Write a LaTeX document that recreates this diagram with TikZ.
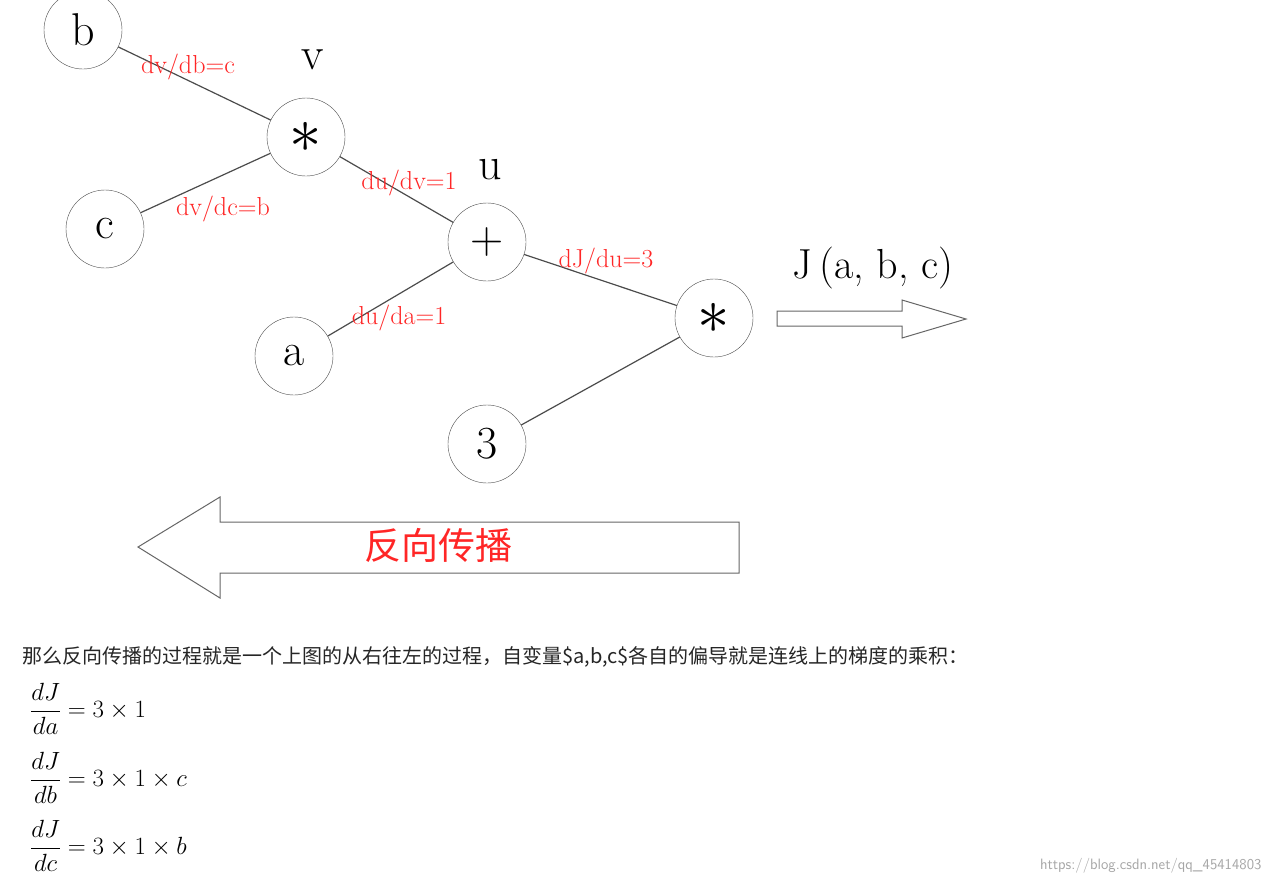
\documentclass[tikz,border=0pt]{standalone}
\usepackage{fontspec}
\usepackage{amsmath}
\newfontfamily\cjk{Noto Sans CJK SC}
\usetikzlibrary{calc}
\newcommand{\bigast}{\raisebox{-0.45ex}{\scalebox{2.6}{$\ast$}}}
\begin{document}
\begin{tikzpicture}[x=1pt,y=-1pt,
  nd/.style={circle,draw=black!70,fill=white,minimum size=78pt,inner sep=0pt,font=\fontsize{46}{46}\selectfont},
  ed/.style={draw=black!70,line width=1.2pt},
  lb/.style={text=red!85,font=\fontsize{26}{26}\selectfont},
  nm/.style={font=\fontsize{46}{46}\selectfont},
  eq/.style={anchor=west,inner sep=0pt,font=\fontsize{27}{27}\selectfont}]
\useasboundingbox[fill=white] (0,0) rectangle (1273,884);
\node[nd] (b) at (83,30) {b};
\node[nd] (v) at (306,137) {\bigast};
\node[nd] (c) at (105,229) {c};
\node[nd] (u) at (487,242) {+};
\node[nd] (a) at (294,356) {a};
\node[nd] (j) at (714,318) {\bigast};
\node[nd] (t) at (487,444) {3};
\draw[ed] (b)--(v); \draw[ed] (c)--(v); \draw[ed] (v)--(u); \draw[ed] (a)--(u);
\draw[ed] (u)--(j); \draw[ed] (t)--(j);
\node[lb] (l1) at (188,67) {dv/db=c};
\node[lb] (l2) at (223,209) {dv/dc=b};
\node[lb] (l3) at (409,183) {du/dv=1};
\node[lb] (l4) at (399,318) {du/da=1};
\node[lb] (l5) at (606,261) {dJ/du=3};
\node[nm] (nv) at (313,60) {v};
\node[nm] (nu) at (490,170) {u};
\node[font=\fontsize{42}{42}\selectfont] (nj) at (873,268) {J\,(a, b, c)};
\draw[black!60,line width=1pt] (777,311)--(902,311)--(902,300)--(966,319)--(902,338)--(902,326)--(777,326)--cycle;
\draw[black!60,line width=1pt] (138,547)--(220,497)--(220,522)--(739,522)--(739,573)--(220,573)--(220,598)--cycle;
\node[text=red!85,font=\cjk\fontsize{37}{37}\selectfont] (bp) at (438,545) {反向传播};
\node[anchor=west,font=\cjk\fontsize{20}{20}\selectfont,text=black!85,inner sep=0pt] (tx) at (22,657) {那么反向传播的过程就是一个上图的从右往左的过程，自变量\$a,b,c\$各自的偏导就是连线上的梯度的乘积：};
\node[eq] (e1) at (30,709) {$\dfrac{dJ}{da}=3\times1$};
\node[eq] (e2) at (30,778) {$\dfrac{dJ}{db}=3\times1\times c$};
\node[eq] (e3) at (30,846) {$\dfrac{dJ}{dc}=3\times1\times b$};
\node[anchor=east,text=black!35,font=\fontsize{15}{15}\selectfont\sffamily] (wm) at (1265,866) {https://blog.csdn.net/qq\_45414803};
\end{tikzpicture}
\end{document}
